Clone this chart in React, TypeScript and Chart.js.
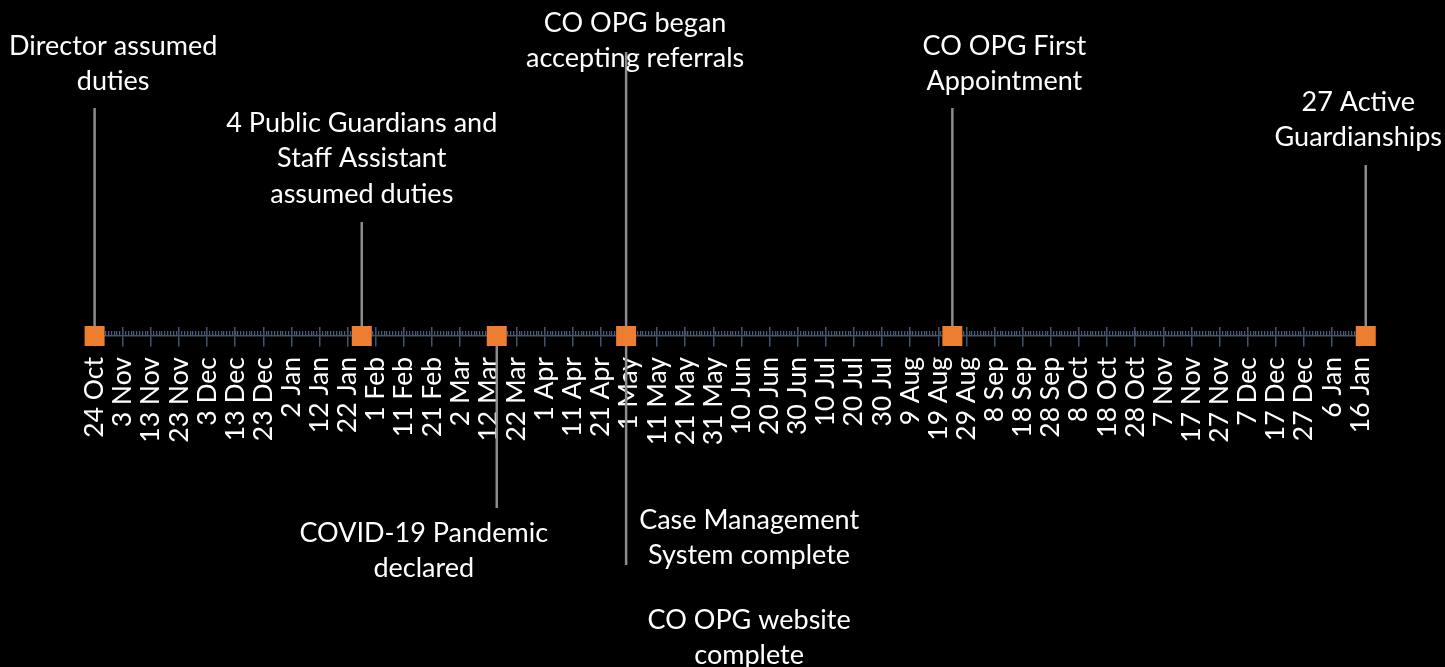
import React, { useEffect, useRef } from 'react';
import { Chart, registerables } from 'chart.js';

Chart.register(...registerables);

// ---------- data ----------
const startDate = '2019-10-24';

const tickLabels = [
  '24 Oct', '3 Nov', '13 Nov', '23 Nov', '3 Dec', '13 Dec', '23 Dec', '2 Jan', '12 Jan', '22 Jan',
  '1 Feb', '11 Feb', '21 Feb', '2 Mar', '12 Mar', '22 Mar', '1 Apr', '11 Apr', '21 Apr', '1 May',
  '11 May', '21 May', '31 May', '10 Jun', '20 Jun', '30 Jun', '10 Jul', '20 Jul', '30 Jul', '9 Aug',
  '19 Aug', '29 Aug', '8 Sep', '18 Sep', '28 Sep', '8 Oct', '18 Oct', '28 Oct', '7 Nov', '17 Nov',
  '27 Nov', '7 Dec', '17 Dec', '27 Dec', '6 Jan', '16 Jan',
];

const eventDates = ['2019-10-24', '2020-01-27', '2020-03-15', '2020-04-30', '2020-08-24', '2021-01-18'];

// height of the leader line above (positive) / below (negative) the timeline
const upHeights = [228, 114, 0, 284, 228, 171];
const downHeights = [0, 0, -172, -229, 0, 0];

const labelTexts: string[][] = [
  ['Director assumed', 'duties'],
  ['4 Public Guardians and', 'Staff Assistant', 'assumed duties'],
  ['CO OPG began', 'accepting referrals'],
  ['COVID-19 Pandemic', 'declared'],
  ['Case Management', 'System complete'],
  ['CO OPG website', 'complete'],
  ['CO OPG First', 'Appointment'],
  ['27 Active', 'Guardianships'],
];

// ---------- layout / style ----------
const labelPlacement = [
  { event: 0, side: 'up', dx: 0, dy: -62 },
  { event: 1, side: 'up', dx: 0, dy: -99 },
  { event: 3, side: 'up', dx: 9, dy: -29 },
  { event: 2, side: 'down', dx: -73, dy: 25 },
  { event: 3, side: 'down', dx: 123, dy: -45 },
  { event: 3, side: 'down', dx: 123, dy: 55 },
  { event: 4, side: 'up', dx: 52, dy: -62 },
  { event: 5, side: 'up', dx: 0, dy: -63 },
];

const W = 1445;
const H = 667;
const AXIS = '#44546A';
const ORANGE = '#ED7D31';
const LEADER = '#8C8C8C';
const FONT = 'Lato';
const FONT_SIZE = 27;
const TICK_FONT_SIZE = 26.5;
const LINE_H = 35.5;

const toDays = (s: string) => {
  const [y, m, d] = s.split('-').map(Number);
  const [y0, m0, d0] = startDate.split('-').map(Number);
  return Math.round((Date.UTC(y, m - 1, d) - Date.UTC(y0, m0 - 1, d0)) / 86400000);
};

const eventDays = eventDates.map(toDays);

const annotationPlugin = {
  id: 'timelineLabels',
  afterDatasetsDraw(chart: any) {
    const { ctx } = chart;
    const x = chart.scales.x;
    const y = chart.scales.y;
    ctx.save();
    ctx.font = `${FONT_SIZE}px ${FONT}`;
    ctx.fillStyle = '#FFFFFF';
    ctx.textAlign = 'center';
    ctx.textBaseline = 'middle';
    labelPlacement.forEach((p, i) => {
      const lines = labelTexts[i];
      const endVal = p.side === 'up' ? upHeights[p.event] : downHeights[p.event];
      const px = x.getPixelForValue(eventDays[p.event]);
      const py = y.getPixelForValue(endVal);
      const w = Math.max(...lines.map((l) => ctx.measureText(l).width));
      let cx = px + p.dx;
      cx = Math.max(cx, 9 + w / 2);
      cx = Math.min(cx, chart.width - 3 - w / 2);
      const top = py + p.dy;
      lines.forEach((l, k) => ctx.fillText(l, cx, top + k * LINE_H));
    });
    ctx.restore();
  },
};

export default function App() {
  const ref = useRef<HTMLCanvasElement>(null);

  useEffect(() => {
    if (!ref.current) return;
    const xMax = eventDays[eventDays.length - 1];

    const leaderSets: any[] = [];
    eventDays.forEach((d, i) => {
      [upHeights[i], downHeights[i]].forEach((h) => {
        if (h !== 0) {
          leaderSets.push({
            data: [{ x: d, y: 0 }, { x: d, y: h }],
            showLine: true,
            borderColor: LEADER,
            borderWidth: 2.5,
            pointRadius: 0,
            order: 2,
            clip: false,
          });
        }
      });
    });

    const chart = new Chart(ref.current, {
      type: 'scatter',
      data: {
        datasets: [
          {
            data: eventDays.map((d) => ({ x: d, y: 0 })),
            pointStyle: 'rect',
            pointRadius: 14.14,
            pointHoverRadius: 14.14,
            backgroundColor: ORANGE,
            borderColor: ORANGE,
            borderWidth: 0,
            order: 1,
            clip: false,
          },
          ...leaderSets,
        ],
      },
      options: {
        responsive: false,
        animation: false,
        events: [],
        layout: {
          autoPadding: false,
          padding: { left: 94.6, right: W - (94.6 + xMax * 2.8123), top: 0, bottom: 0 },
        },
        plugins: { legend: { display: false }, tooltip: { enabled: false } },
        scales: {
          x: {
            type: 'linear',
            axis: 'x',
            min: 0,
            max: xMax,
            position: { y: 0 } as any,
            border: { display: true, color: AXIS, width: 1.5 },
            grid: { drawOnChartArea: false, drawTicks: true, tickLength: 10, color: AXIS, lineWidth: 1.5 },
            ticks: {
              stepSize: 10,
              autoSkip: false,
              includeBounds: false,
              minRotation: 90,
              maxRotation: 90,
              padding: 11,
              color: '#FFFFFF',
              font: { family: FONT, size: TICK_FONT_SIZE },
              callback: (v: any) => {
                const n = Number(v);
                if (n % 10 !== 0) return '';
                return tickLabels[Math.round(n / 10)] ?? '';
              },
            },
          },
          xMinor: {
            type: 'linear',
            axis: 'x',
            min: 0,
            max: xMax,
            position: { y: 0 } as any,
            border: { display: false },
            grid: { drawOnChartArea: false, drawTicks: true, tickLength: -5, color: '#4A5B73', lineWidth: 1.25 },
            ticks: { stepSize: 1, display: false, includeBounds: false, autoSkip: false },
          },
          xMajorUp: {
            type: 'linear',
            axis: 'x',
            min: 0,
            max: xMax,
            position: { y: 0 } as any,
            border: { display: false },
            grid: { drawOnChartArea: false, drawTicks: true, tickLength: -9, color: AXIS, lineWidth: 1.5 },
            ticks: { stepSize: 10, display: false, includeBounds: false, autoSkip: false },
          },
          y: { type: 'linear', min: -331, max: 336, display: false },
        },
      } as any,
      plugins: [annotationPlugin],
    });
    return () => chart.destroy();
  }, []);

  return (
    <div style={{ position: 'absolute', left: 0, top: 0, width: W, height: H, background: '#000' }}>
      <canvas ref={ref} width={W} height={H} style={{ display: 'block' }} />
    </div>
  );
}
